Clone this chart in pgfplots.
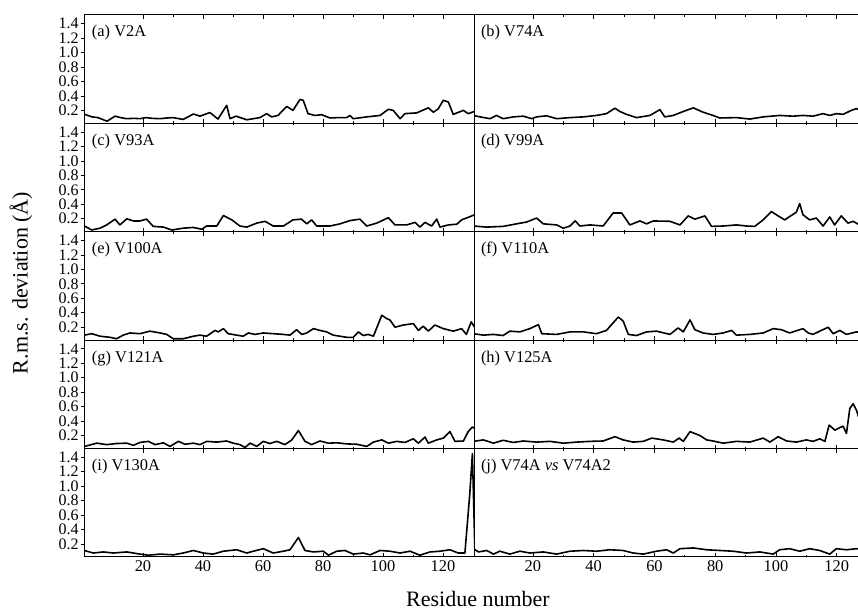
\documentclass[border=0pt]{standalone}
\usepackage{fontspec}
\setmainfont{Liberation Serif}
\usepackage{pgfplots}
\pgfplotsset{compat=1.18}

% one panel of the 5x2 grid; rows share edges, so every axis is placed by hand
\pgfplotsset{
  panel/.style={
    scale only axis, height=54.2pt, anchor=south west,
    ymin=0.02, ymax=1.52,
    xtick={20,40,...,120}, minor x tick num=1,
    xtick pos=both, xtick align=inside,
    major tick length=2pt, minor tick length=1pt,
    xticklabels={},
    axis line style={line width=0.5pt},
    tick style={line width=0.4pt, black},
    /pgf/number format/assume math mode=true,
    ticklabel style={font=\fontsize{8}{8}\selectfont},
  },
  leftcol/.style={panel, width=194.5pt, xmin=0.67, xmax=130.33,
    ytick={0.2,0.4,...,1.4}, ytick pos=left, ytick align=outside,
    yticklabel style={/pgf/number format/fixed, /pgf/number format/precision=1,
      /pgf/number format/fixed zerofill, inner sep=1pt},
  },
  rightcol/.style={panel, width=192pt, xmin=0.6, xmax=127,
    separate axis lines, y axis line style={draw=none}, ytick=\empty,
  },
  bottomrow/.style={xticklabels={20,40,60,80,100,120}, xtick={20,40,...,120},
    xticklabel style={font=\fontsize{8.2}{9}\selectfont, inner sep=1.5pt}},
  curve/.style={black, line width=0.8pt, line join=round},
}
\newcommand{\plab}[1]{\node[anchor=west, inner sep=0pt, xshift=3.3pt, yshift=-9pt,
  font=\fontsize{8.2}{9}\selectfont] at (rel axis cs:0,1) {#1};}

\begin{document}
\begin{tikzpicture}
\path[use as bounding box] (0,0) rectangle (429pt,305pt);

% ---- row 1
\begin{axis}[leftcol, at={(42.5pt,243.3pt)}]
\addplot[curve] coordinates {
(0.5,0.145)(3,0.11)(5,0.10)(8,0.05)(10.7,0.12)(12.5,0.10)(14.5,0.085)(17,0.09)(19,0.085)
(21,0.10)(23,0.09)(25.7,0.085)(28,0.095)(30,0.10)(33.4,0.075)(36.8,0.15)(39,0.12)(42.3,0.17)
(45,0.08)(47.9,0.27)(49,0.085)(51,0.12)(54.6,0.07)(59,0.10)(61.2,0.155)(62.9,0.11)(65,0.13)
(67.9,0.255)(70,0.2)(72.3,0.35)(73.4,0.34)(75,0.155)(77.3,0.13)(79.6,0.14)(82.3,0.095)(85,0.10)
(87.9,0.10)(89,0.13)(90.1,0.085)(94.6,0.11)(99,0.13)(101.8,0.215)(103.4,0.2)(105.7,0.085)
(107.3,0.155)(111.2,0.165)(115.1,0.235)(116.8,0.175)(118.4,0.22)(120.1,0.34)(121.8,0.315)
(123.4,0.145)(126.8,0.2)(128.4,0.155)(130.5,0.185)};
\plab{(a) V2A}
\end{axis}
\begin{axis}[rightcol, at={(237pt,243.3pt)}]
\addplot[curve] coordinates {
(0.4,0.13)(2.6,0.11)(5.9,0.085)(8,0.13)(10.2,0.085)(13.5,0.11)(16.8,0.12)(19.6,0.085)(21.2,0.11)
(24.5,0.125)(27.8,0.085)(32.2,0.10)(36.6,0.11)(40.9,0.13)(44.2,0.155)(47,0.23)(48.6,0.185)
(50.8,0.145)(54.1,0.10)(58.5,0.13)(61.8,0.21)(63.4,0.11)(66.2,0.13)(69.5,0.185)(72.8,0.235)
(76,0.175)(79.3,0.13)(81.5,0.095)(87,0.10)(91.4,0.08)(95.8,0.11)(101.2,0.13)(105.6,0.12)
(108.9,0.13)(112.2,0.12)(115.5,0.155)(117.7,0.13)(119.9,0.155)(122.1,0.145)(124.8,0.2)(126.5,0.225)(127.5,0.2)};
\plab{(b) V74A}
\end{axis}

% ---- row 2
\begin{axis}[leftcol, at={(42.5pt,189.1pt)}]
\addplot[curve] coordinates {
(0.5,0.10)(2.9,0.045)(5.7,0.07)(7.9,0.115)(10.7,0.195)(12.3,0.115)(14.6,0.2)(16.8,0.17)(19,0.17)
(21.2,0.195)(23.4,0.095)(26.8,0.085)(29.6,0.045)(33.4,0.07)(36.8,0.08)(39.6,0.055)(41.2,0.10)
(44.6,0.10)(46.8,0.245)(49.6,0.185)(52.3,0.10)(54.6,0.085)(57.9,0.14)(60.7,0.165)(63.4,0.10)
(66.8,0.10)(70,0.185)(72.8,0.195)(74.6,0.13)(76.2,0.185)(77.9,0.10)(82.3,0.10)(85.7,0.13)
(89,0.175)(92.3,0.195)(94.6,0.10)(97.9,0.14)(101.8,0.215)(104,0.115)(107.9,0.115)(110.7,0.15)
(112.3,0.085)(114,0.15)(116.2,0.10)(117.9,0.195)(119,0.085)(121.8,0.115)(124.6,0.125)
(126.2,0.185)(128.4,0.22)(130.5,0.255)};
\plab{(c) V93A}
\end{axis}
\begin{axis}[rightcol, at={(237pt,189.1pt)}]
\addplot[curve] coordinates {
(0.4,0.10)(4.8,0.085)(10.2,0.095)(14.6,0.13)(17.9,0.155)(21.2,0.21)(23.4,0.13)(27.8,0.115)
(30,0.07)(32.2,0.10)(33.9,0.17)(35.5,0.10)(38.8,0.115)(43.1,0.10)(46.4,0.28)(49.2,0.28)
(51.9,0.115)(55.2,0.17)(57.4,0.13)(59.6,0.17)(65.1,0.165)(68.4,0.115)(71.1,0.24)(73.3,0.195)
(76.6,0.24)(78.8,0.095)(82.6,0.10)(87,0.115)(90.3,0.10)(93,0.095)(95.8,0.185)(98.5,0.30)
(100.7,0.24)(102.9,0.185)(105,0.245)(106.7,0.29)(107.8,0.41)(108.9,0.255)(111.1,0.185)
(113.3,0.21)(115.5,0.10)(117.7,0.225)(119.3,0.115)(121.5,0.24)(123.7,0.14)(125.4,0.165)(127.5,0.115)};
\plab{(d) V99A}
\end{axis}

% ---- row 3
\begin{axis}[leftcol, at={(42.5pt,134.9pt)}]
\addplot[curve] coordinates {
(0.5,0.09)(2.9,0.11)(5.7,0.075)(9,0.06)(11.2,0.04)(13.4,0.09)(15.7,0.12)(19,0.11)(22.3,0.145)
(25.7,0.12)(27.9,0.10)(30.1,0.04)(33.4,0.04)(36.8,0.075)(39,0.09)(41.2,0.075)(44,0.155)
(45.1,0.135)(46.8,0.18)(48.4,0.11)(51.2,0.09)(53.4,0.075)(55.1,0.12)(57.3,0.10)(60.1,0.12)
(63.4,0.11)(66.8,0.10)(69,0.09)(71.2,0.165)(72.9,0.10)(74.6,0.12)(76.8,0.18)(79,0.155)
(81.2,0.135)(83.4,0.09)(87.9,0.06)(90.1,0.06)(91.8,0.135)(93.4,0.085)(95.1,0.10)(96.8,0.075)
(99.6,0.365)(101.2,0.32)(102.3,0.30)(104,0.20)(106.8,0.23)(110.1,0.25)(111.8,0.155)(113.4,0.215)
(115.1,0.145)(117.3,0.23)(120.1,0.18)(123.4,0.145)(126.2,0.18)(127.8,0.10)(129.4,0.275)(130.5,0.2)};
\plab{(e) V100A}
\end{axis}
\begin{axis}[rightcol, at={(237pt,134.9pt)}]
\addplot[curve] coordinates {
(0.4,0.11)(3.7,0.09)(7,0.10)(10.2,0.085)(12.4,0.145)(15.7,0.135)(19,0.18)(21.8,0.235)(22.9,0.11)
(27.8,0.10)(32.2,0.135)(36.6,0.135)(40.9,0.11)(44.2,0.155)(46.4,0.26)(48.1,0.34)(49.7,0.285)
(51.4,0.10)(54.1,0.085)(57.4,0.135)(60.7,0.145)(65.1,0.10)(67.8,0.19)(69.5,0.135)(71.7,0.30)
(73.3,0.165)(76,0.12)(79.3,0.10)(82.6,0.12)(85.4,0.155)(87,0.09)(91.4,0.10)(95.8,0.12)
(99.1,0.18)(101.8,0.165)(104.5,0.12)(108.9,0.18)(110.6,0.12)(112.2,0.10)(114.4,0.145)
(117.2,0.20)(118.8,0.11)(121,0.155)(123.2,0.10)(126.5,0.135)(127.5,0.13)};
\plab{(f) V110A}
\end{axis}

% ---- row 4
\begin{axis}[leftcol, at={(42.5pt,80.7pt)}]
\addplot[curve] coordinates {
(0.5,0.05)(4.6,0.095)(7.9,0.075)(11.2,0.09)(14.6,0.095)(16.8,0.065)(19,0.105)(21.8,0.12)(24,0.075)
(26.8,0.10)(29,0.05)(31.8,0.12)(34,0.08)(36.8,0.095)(39,0.075)(41.2,0.12)(44.6,0.11)(47.9,0.125)
(50.1,0.095)(52.3,0.075)(54,0.035)(55.7,0.095)(57.9,0.05)(60.1,0.12)(62.3,0.09)(64.6,0.12)
(67.3,0.075)(69.6,0.14)(71.8,0.27)(74,0.12)(76.2,0.075)(79,0.125)(81.8,0.095)(84.6,0.10)
(87.9,0.085)(91.2,0.08)(94.6,0.05)(96.8,0.11)(99.6,0.14)(101.8,0.095)(104.6,0.12)(107.3,0.105)
(110.1,0.155)(111.8,0.095)(114,0.18)(115.1,0.095)(117.9,0.14)(120.1,0.165)(122.3,0.255)
(124,0.12)(126.8,0.125)(128.4,0.255)(129.8,0.32)(130.5,0.3)};
\plab{(g) V121A}
\end{axis}
\begin{axis}[rightcol, at={(237pt,80.7pt)}]
\addplot[curve] coordinates {
(0.4,0.12)(3.7,0.14)(7,0.095)(10.2,0.135)(13.5,0.105)(16.8,0.125)(21.2,0.11)(25.6,0.12)(30,0.095)
(34.4,0.11)(38.8,0.12)(43.1,0.125)(47,0.185)(49.7,0.14)(53,0.11)(56.3,0.12)(59.1,0.165)
(62.9,0.14)(66.2,0.11)(68.1,0.165)(69.5,0.12)(71.7,0.255)(75,0.2)(77.2,0.14)(79.3,0.125)
(82.6,0.095)(87,0.12)(91.4,0.11)(95.8,0.165)(98,0.11)(100.7,0.185)(103.5,0.125)(106.7,0.11)
(110,0.14)(112.2,0.12)(114.4,0.155)(116.1,0.12)(117.5,0.345)(119.4,0.275)(121,0.31)(122.1,0.33)
(123.2,0.23)(124.3,0.575)(125.4,0.64)(126.5,0.55)(127.5,0.42)};
\plab{(h) V125A}
\end{axis}

% ---- row 5
\begin{axis}[leftcol, bottomrow, at={(42.5pt,26.5pt)}]
\addplot[curve] coordinates {
(0.5,0.11)(3.4,0.075)(6.8,0.09)(10.1,0.075)(14.6,0.09)(19,0.06)(21.8,0.045)(25.7,0.06)(30.1,0.05)
(33.4,0.075)(36.8,0.11)(40.1,0.075)(43.4,0.06)(46.8,0.10)(51.2,0.12)(54.6,0.075)(56.8,0.10)
(60.1,0.135)(63.4,0.075)(66.8,0.10)(69,0.12)(71.8,0.29)(74,0.11)(76.8,0.09)(80.1,0.10)
(81.8,0.045)(84.6,0.10)(87.3,0.11)(90.1,0.06)(93.4,0.075)(95.7,0.05)(99,0.11)(102.3,0.10)
(105.7,0.075)(109,0.10)(112.3,0.045)(115.7,0.09)(119,0.10)(122.3,0.12)(125.1,0.075)(127.3,0.075)
(128.9,0.88)(129.8,1.45)(130.6,0.145)};
\plab{(i) V130A}
\end{axis}
\begin{axis}[rightcol, bottomrow, at={(237pt,26.5pt)}]
\addplot[curve] coordinates {
(0.4,0.135)(2.1,0.09)(4.8,0.11)(7,0.06)(9.1,0.10)(12.4,0.06)(15.7,0.10)(19,0.075)(23.4,0.09)
(27.8,0.06)(32.2,0.10)(36.6,0.11)(40.9,0.10)(45.3,0.12)(49.7,0.11)(53,0.075)(56.3,0.06)
(60.7,0.10)(64,0.12)(66.2,0.075)(68.4,0.135)(72.8,0.145)(77.2,0.12)(81.5,0.11)(85.9,0.10)
(90.3,0.075)(94.7,0.09)(99.1,0.06)(101.2,0.12)(104.5,0.135)(107.8,0.10)(111.1,0.135)(114.4,0.11)
(117.7,0.06)(119.9,0.135)(123.2,0.12)(126.5,0.135)(127.5,0.13)};
\plab{(j) V74A \textit{vs} V74A2}
\end{axis}

% shared axis titles
\node[rotate=90, font=\fontsize{11}{13}\selectfont] at (10.5pt,163.5pt) {R.m.s. deviation (Å)};
\node[anchor=base, font=\fontsize{11}{13}\selectfont] at (239pt,1.8pt) {Residue number};
\end{tikzpicture}
\end{document}
